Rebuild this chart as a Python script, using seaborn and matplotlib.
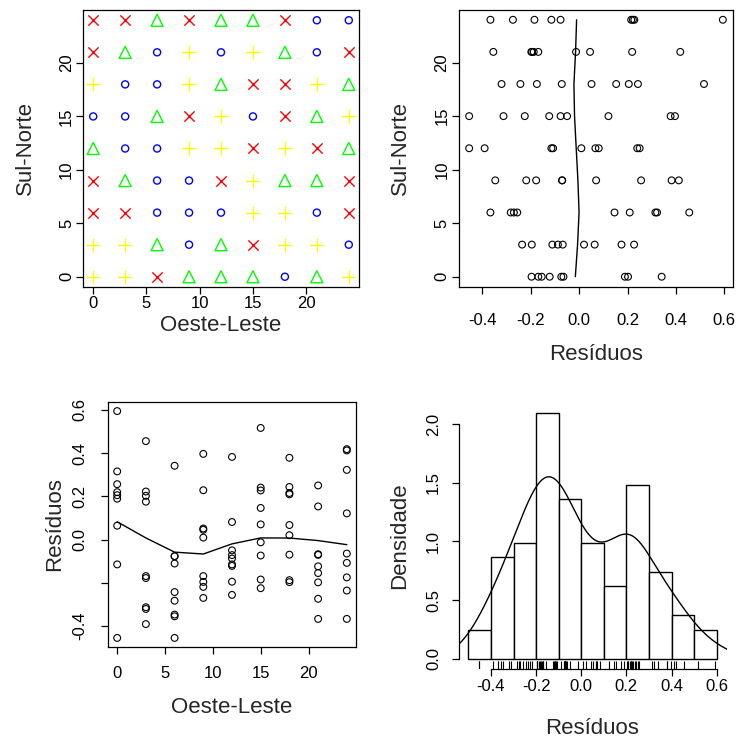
import numpy as np
import pandas as pd
import matplotlib
matplotlib.use("Agg")
import matplotlib.pyplot as plt
from matplotlib.markers import MarkerStyle
import seaborn as sns

# ---------------- data ----------------
x_coords = [0, 3, 6, 9, 12, 15, 18, 21, 24]          # Oeste-Leste
y_coords = [0, 3, 6, 9, 12, 15, 18, 21, 24]          # Sul-Norte
# residuals, one row per Sul-Norte value (bottom to top), columns over Oeste-Leste
res_y0 = [0.189, 0.202, 0.341, -0.169, -0.122, -0.074, -0.197, -0.155, -0.065]
res_y3 = [0.064, 0.175, -0.111, -0.196, -0.088, 0.227, 0.020, -0.068, -0.236]
res_y6 = [0.315, 0.455, -0.283, -0.270, -0.256, 0.146, 0.209, -0.367, 0.322]
res_y9 = [0.256, -0.178, -0.347, -0.219, 0.382, 0.070, -0.070, -0.071, 0.412]
res_y12 = [-0.115, -0.391, -0.455, 0.009, 0.081, 0.240, 0.067, 0.250, -0.108]
res_y15 = [-0.455, -0.313, -0.077, 0.396, -0.050, -0.225, 0.378, -0.124, 0.121]
res_y18 = [0.205, -0.321, -0.243, 0.051, -0.072, 0.516, 0.243, 0.153, -0.175]
res_y21 = [0.219, -0.169, -0.355, 0.045, -0.195, -0.013, -0.188, -0.198, 0.418]
res_y24 = [0.594, 0.222, -0.077, 0.228, -0.115, -0.185, 0.215, -0.274, -0.367]
hist_breaks = [-0.5, -0.4, -0.3, -0.2, -0.1, 0.0, 0.1, 0.2, 0.3, 0.4, 0.5, 0.6]

coord_ticks = [0, 5, 10, 15, 20]
res_ticks = [-0.4, -0.2, 0.0, 0.2, 0.4, 0.6]
res_tick_labels = ["-0.4", "-0.2", "0.0", "0.2", "0.4", "0.6"]
res_tick_labels_bl = ["-0.4", "", "0.0", "0.2", "0.4", "0.6"]
dens_ticks = [0.0, 0.5, 1.0, 1.5, 2.0]
dens_tick_labels = ["0.0", "0.5", "1.0", "1.5", "2.0"]

rows = [res_y0, res_y3, res_y6, res_y9, res_y12, res_y15, res_y18, res_y21, res_y24]
df = pd.DataFrame({
    "x": np.tile(x_coords, len(y_coords)),
    "y": np.repeat(y_coords, len(x_coords)),
    "res": np.concatenate(rows),
})
qs = df["res"].quantile([0, .25, .5, .75, 1]).values
df["q"] = pd.cut(df["res"], bins=qs, include_lowest=True, labels=[1, 2, 3, 4]).astype(int)


# ---------------- R-style lowess ----------------
def _lowest(x, y, n, xs, nleft, nright, userw, rw):
    rng = x[-1] - x[0]
    h = max(xs - x[nleft], x[nright] - xs)
    h9, h1 = 0.999 * h, 0.001 * h
    w = np.zeros(n)
    a = 0.0
    j = nleft
    while j < n:
        r = abs(x[j] - xs)
        if r <= h9:
            w[j] = 1.0 if r <= h1 else (1 - (r / h) ** 3) ** 3
            if userw:
                w[j] *= rw[j]
            a += w[j]
        elif x[j] > xs:
            break
        j += 1
    nrt = j - 1
    if a <= 0:
        return 0.0, False
    sl = slice(nleft, nrt + 1)
    w[sl] /= a
    if h > 0:
        a = np.sum(w[sl] * x[sl])
        b = xs - a
        c = np.sum(w[sl] * (x[sl] - a) ** 2)
        if np.sqrt(c) > 0.001 * rng:
            b /= c
            w[sl] *= (b * (x[sl] - a) + 1)
    return float(np.sum(w[sl] * y[sl])), True


def r_lowess(x, y, f=2 / 3, iters=3):
    x = np.asarray(x, float)
    y = np.asarray(y, float)
    o = np.argsort(x, kind="stable")
    x, y = x[o], y[o]
    n = len(x)
    delta = 0.01 * (x[-1] - x[0])
    ns = max(min(int(f * n + 1e-7), n), 2)
    ys = np.zeros(n)
    rw = np.ones(n)
    for it in range(iters + 1):
        nleft, nright = 0, ns - 1
        last = -1
        i = 0
        while True:
            if nright < n - 1:
                d1 = x[i] - x[nleft]
                d2 = x[nright + 1] - x[i]
                if d1 > d2:
                    nleft += 1
                    nright += 1
                    continue
            val, ok = _lowest(x, y, n, x[i], nleft, nright, it > 0, rw)
            ys[i] = val if ok else y[i]
            if last < i - 1:
                denom = x[i] - x[last]
                for j in range(last + 1, i):
                    al = (x[j] - x[last]) / denom
                    ys[j] = al * ys[i] + (1 - al) * ys[last]
            last = i
            cut = x[last] + delta
            i = last + 1
            while i < n:
                if x[i] > cut:
                    break
                if x[i] == x[last]:
                    ys[i] = ys[last]
                    last = i
                i += 1
            i = max(last + 1, i - 1)
            if last >= n - 1:
                break
        res = y - ys
        if it >= iters:
            break
        sc = np.mean(np.abs(res))
        r = np.abs(res)
        srt = np.sort(r)
        cmad = 6 * srt[n // 2] if n % 2 else 3 * (srt[n // 2] + srt[n // 2 - 1])
        if cmad < 1e-7 * sc:
            break
        c9, c1 = 0.999 * cmad, 0.001 * cmad
        rw = np.where(r <= c1, 1.0, np.where(r <= c9, (1 - (r / cmad) ** 2) ** 2, 0.0))
    return x, ys


# ---------------- figure ----------------
sns.set_theme(style="white")
plt.rcParams["font.family"] = ["Liberation Sans", "DejaVu Sans"]
W = H = 740
fig = plt.figure(figsize=(7.4, 7.4), dpi=100)
fig.patch.set_facecolor("white")


def add_ax(l, r, t, b):
    return fig.add_axes([l / W, 1 - b / H, (r - l) / W, (b - t) / H])


TICK_FS = 12
LAB_FS = 16


def style_ax(ax, xpad, ypad, box=True):
    for s in ax.spines.values():
        s.set_color("black")
        s.set_linewidth(0.9)
        s.set_visible(box)
    ax.tick_params(axis="both", direction="out", length=5, width=0.9, color="black",
                   labelsize=TICK_FS, labelcolor="black", bottom=True, left=True)
    ax.tick_params(axis="x", pad=xpad)
    ax.tick_params(axis="y", pad=ypad)
    for lab in ax.get_yticklabels():
        lab.set_rotation(90)
        lab.set_va("center")
    ax.set_facecolor("white")
    ax.grid(False)


def set_labels(ax, xl, yl, xl_y, yl_x):
    ax.set_xlabel(xl, fontsize=LAB_FS)
    ax.set_ylabel(yl, fontsize=LAB_FS)
    ax.xaxis.set_label_coords(0.5, xl_y)
    ax.yaxis.set_label_coords(yl_x, 0.5)
    ax.xaxis.label.set_va("center")
    ax.yaxis.label.set_va("center")


def ext(lo, hi, f=0.04):
    d = hi - lo
    return lo - f * d, hi + f * d


clim = ext(min(x_coords), max(x_coords))
rlim = ext(df["res"].min(), df["res"].max())

# ---- top-left: quartile symbols ----
ax1 = add_ax(83, 359, 10, 287)
qstyle = {
    1: (MarkerStyle("o", fillstyle="none"), "#0000FF", 26),
    2: (MarkerStyle("^", fillstyle="none"), "#00FF00", 75),
    3: ("+", "#FFFF00", 100),
    4: ("x", "#FF0000", 55),
}
for q, (m, c, s) in qstyle.items():
    sub = df[df["q"] == q]
    sns.scatterplot(data=sub, x="x", y="y", marker=m, color=c, s=s, linewidth=1.0, ax=ax1, legend=False)
ax1.set_xlim(*clim)
ax1.set_ylim(*clim)
ax1.set_xticks(coord_ticks)
ax1.set_yticks(coord_ticks)
ax1.set_xticklabels([str(t) for t in coord_ticks])
ax1.set_yticklabels([str(t) for t in coord_ticks])
style_ax(ax1, xpad=1.5, ypad=1.5)
set_labels(ax1, "Oeste-Leste", "Sul-Norte", -0.140, -0.210)

# ---- top-right: residuals vs Sul-Norte ----
ax2 = add_ax(459, 733, 9.5, 287)
open_circle = MarkerStyle("o", fillstyle="none")
sns.scatterplot(data=df, x="res", y="y", marker=open_circle, color="black", s=24, linewidth=0.8,
                ax=ax2, legend=False)
ly, lfit = r_lowess(df["y"].values, df["res"].values)
sns.lineplot(x=lfit, y=ly, sort=False, estimator=None, orient="y", color="black", linewidth=1.0, ax=ax2)
ax2.set_xlim(*rlim)
ax2.set_ylim(*clim)
ax2.set_xticks(res_ticks)
ax2.set_xticklabels(res_tick_labels)
ax2.set_yticks(coord_ticks)
ax2.set_yticklabels([str(t) for t in coord_ticks])
style_ax(ax2, xpad=14, ypad=2)
set_labels(ax2, "Resíduos", "Sul-Norte", -0.245, -0.212)

# ---- bottom-left: residuals vs Oeste-Leste ----
ax3 = add_ax(108, 356, 402, 647)
sns.scatterplot(data=df, x="x", y="res", marker=open_circle, color="black", s=24, linewidth=0.8,
                ax=ax3, legend=False)
lx, lfit2 = r_lowess(df["x"].values, df["res"].values)
sns.lineplot(x=lx, y=lfit2, sort=False, estimator=None, color="black", linewidth=1.0, ax=ax3)
ax3.set_xlim(*clim)
ax3.set_ylim(*rlim)
ax3.set_xticks(coord_ticks)
ax3.set_xticklabels([str(t) for t in coord_ticks])
ax3.set_yticks(res_ticks)
ax3.set_yticklabels(res_tick_labels_bl)
style_ax(ax3, xpad=8.5, ypad=10)
set_labels(ax3, "Oeste-Leste", "Resíduos", -0.245, -0.214)

# ---- bottom-right: histogram + density + rug ----
ax4 = add_ax(458.5, 726.6, 402.8, 668.5)
r = df["res"].values
sns.histplot(x=r, bins=hist_breaks, stat="density", color="white", edgecolor="black",
             linewidth=1.0, alpha=1, ax=ax4)
n = len(r)
iqr = np.percentile(r, 75) - np.percentile(r, 25)
bw = 0.9 * min(np.std(r, ddof=1), iqr / 1.34) * n ** (-0.2)
grid = np.linspace(r.min() - 3 * bw, r.max() + 3 * bw, 512)
dens = np.exp(-0.5 * ((grid[:, None] - r[None, :]) / bw) ** 2).sum(axis=1) / (n * bw * np.sqrt(2 * np.pi))
sns.lineplot(x=grid, y=dens, sort=False, estimator=None, color="black", linewidth=1.0, ax=ax4)
sns.rugplot(x=r, height=0.03, color="black", linewidth=0.8, ax=ax4)
counts, _ = np.histogram(r, bins=hist_breaks)
ymax = (counts / (n * 0.1)).max()
ax4.set_xlim(*ext(hist_breaks[0], hist_breaks[-1]))
ax4.set_ylim(*ext(0, ymax))
ax4.set_xticks(res_ticks)
ax4.set_xticklabels(res_tick_labels)
ax4.set_yticks(dens_ticks)
ax4.set_yticklabels(dens_tick_labels)
style_ax(ax4, xpad=2.5, ypad=7.6, box=False)
ax4.spines["left"].set_visible(True)
ax4.spines["bottom"].set_visible(True)
ax4.spines["left"].set_bounds(0.0, 2.0)
ax4.spines["bottom"].set_bounds(-0.4, 0.6)
set_labels(ax4, "Resíduos", "Densidade", -0.225, -0.218)

fig.savefig("out.png", dpi=100, facecolor="white")
